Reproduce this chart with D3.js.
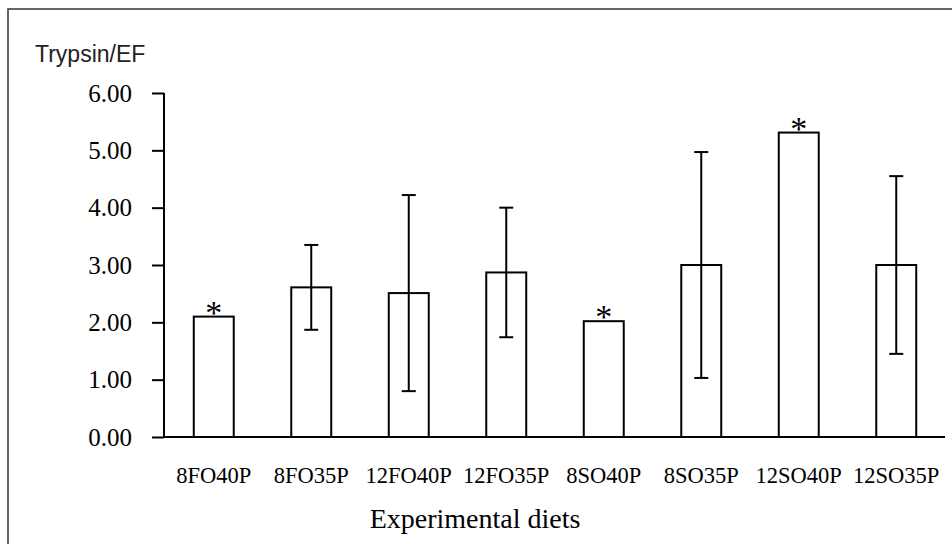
<!DOCTYPE html>
<html>
<head>
<meta charset="utf-8">
<script src="https://cdn.jsdelivr.net/npm/d3@7"></script>
<style>
  body { margin: 0; background: #fff; }
</style>
</head>
<body>
<div id="chart"></div>
<script>
var diets = ["8FO40P", "8FO35P", "12FO40P", "12FO35P", "8SO40P", "8SO35P", "12SO40P", "12SO35P"];
var means = [2.10, 2.61, 2.51, 2.87, 2.02, 3.00, 5.31, 3.00];
var errors = [0, 0.74, 1.71, 1.13, 0, 1.97, 0, 1.55];
var starred = [true, false, false, false, true, false, true, false];
var yTicks = [0, 1, 2, 3, 4, 5, 6];

var svg = d3.select("#chart").append("svg").attr("width", 952).attr("height", 544);

// frame (right and bottom edges fall outside the picture)
svg.append("rect").attr("x", 8).attr("y", 9).attr("width", 1000).attr("height", 600)
  .style("fill", "none").style("stroke", "#333").style("stroke-width", 1.5);

var x = d3.scaleBand().domain(diets).range([165, 945]).paddingInner(0.59).paddingOuter(0.295);
var y = d3.scaleLinear().domain([0, 6]).range([437, 93]);

var yAxis = svg.append("g").attr("transform", "translate(164,0)")
  .call(d3.axisLeft(y).tickValues(yTicks).tickFormat(d3.format(".2f")).tickSize(12).tickPadding(20));
yAxis.select(".domain").attr("d", "M0," + y(6) + "V" + y(0)).style("stroke", "#000").style("stroke-width", 2);
yAxis.selectAll(".tick line").style("stroke", "#000").style("stroke-width", 2);
yAxis.selectAll(".tick text").style("font-family", "'Liberation Serif', 'Times New Roman', serif")
  .style("font-size", "25px").style("fill", "#000");

var xAxis = svg.append("g").attr("transform", "translate(0,437)")
  .call(d3.axisBottom(x).tickSize(0).tickPadding(30));
xAxis.select(".domain").attr("d", "M164,0H945").style("stroke", "#000").style("stroke-width", 2);
xAxis.selectAll(".tick text").style("font-family", "'Liberation Serif', 'Times New Roman', serif")
  .style("font-size", "22.5px").style("fill", "#000");

var bars = svg.append("g");
bars.selectAll("rect").data(diets).enter().append("rect")
  .attr("x", function(d) { return x(d); })
  .attr("y", function(d, i) { return y(means[i]); })
  .attr("width", x.bandwidth())
  .attr("height", function(d, i) { return y(0) - y(means[i]); })
  .style("fill", "#fff").style("stroke", "#000").style("stroke-width", 2);

var errG = svg.append("g").selectAll("g").data(diets).enter().append("g")
  .filter(function(d, i) { return errors[i] > 0; });
errG.append("line")
  .attr("x1", function(d) { return x(d) + x.bandwidth() / 2; })
  .attr("x2", function(d) { return x(d) + x.bandwidth() / 2; })
  .attr("y1", function(d) { var i = diets.indexOf(d); return y(means[i] - errors[i]); })
  .attr("y2", function(d) { var i = diets.indexOf(d); return y(means[i] + errors[i]); })
  .style("stroke", "#000").style("stroke-width", 2);
[-1, 1].forEach(function(s) {
  errG.append("line")
    .attr("x1", function(d) { return x(d) + x.bandwidth() / 2 - 7; })
    .attr("x2", function(d) { return x(d) + x.bandwidth() / 2 + 7; })
    .attr("y1", function(d) { var i = diets.indexOf(d); return y(means[i] + s * errors[i]); })
    .attr("y2", function(d) { var i = diets.indexOf(d); return y(means[i] + s * errors[i]); })
    .style("stroke", "#000").style("stroke-width", 2);
});

svg.append("g").selectAll("text").data(diets.filter(function(d, i) { return starred[i]; })).enter()
  .append("text")
  .attr("x", function(d) { return x(d) + x.bandwidth() / 2; })
  .attr("y", function(d) { return y(means[diets.indexOf(d)]) + 7; })
  .attr("text-anchor", "middle")
  .style("font-family", "'Liberation Serif', 'Times New Roman', serif").style("font-size", "34px")
  .text("*");

svg.append("text").attr("x", 35).attr("y", 62)
  .style("font-family", "'Liberation Sans', Arial, sans-serif").style("font-size", "23px").style("fill", "#222")
  .text("Trypsin/EF");

svg.append("text").attr("x", 475).attr("y", 528).attr("text-anchor", "middle")
  .style("font-family", "'Liberation Serif', 'Times New Roman', serif").style("font-size", "28px")
  .text("Experimental diets");
</script>
</body>
</html>
